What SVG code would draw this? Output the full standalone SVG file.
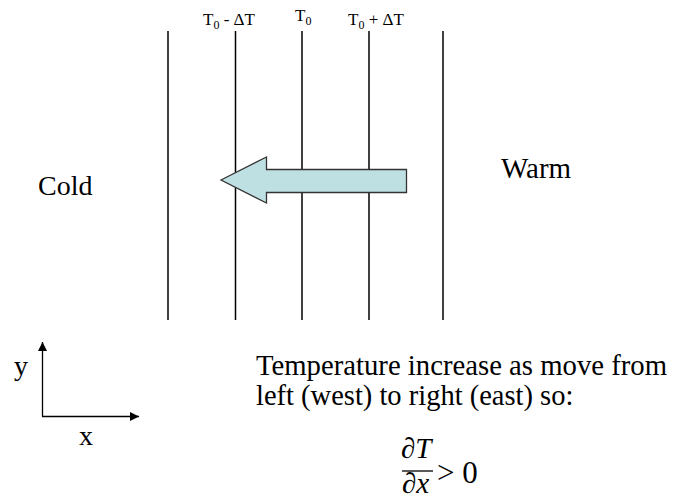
<svg xmlns="http://www.w3.org/2000/svg" width="673" height="501" viewBox="0 0 673 501" font-family="Liberation Serif">
<style>
.iso{stroke:#000;stroke-width:1.5}
.ax{stroke:#000;stroke-width:1.3;fill:none}
</style>
<defs>
<marker id="ah" viewBox="0 0 10 10" refX="10" refY="5" markerWidth="11" markerHeight="9" markerUnits="userSpaceOnUse" orient="auto"><path d="M0,0 L10,5 L0,10 z" fill="#000"/></marker>
</defs>
<rect width="673" height="501" fill="#fff"/>
<g id="isotherms">
<line class="iso" x1="168" y1="31" x2="168" y2="320"/>
<line class="iso" x1="235.5" y1="31" x2="235.5" y2="320"/>
<line class="iso" x1="302" y1="31" x2="302" y2="320"/>
<line class="iso" x1="369" y1="31" x2="369" y2="320"/>
<line class="iso" x1="443" y1="31" x2="443" y2="320"/>
</g>
<g id="labels" font-size="17" font-family="Liberation Serif">
<text x="203" y="25">T<tspan font-size="12" dy="4">0</tspan><tspan dy="-4"> - ΔT</tspan></text>
<text x="295" y="21">T<tspan font-size="12" dy="4">0</tspan></text>
<text x="348" y="25">T<tspan font-size="12" dy="4">0</tspan><tspan dy="-4"> + ΔT</tspan></text>
</g>
<g id="arrow">
<path d="M221,180 L266.5,157 L266.5,169.5 L406.5,169.5 L406.5,192.5 L266.5,192.5 L266.5,203 Z" fill="#bfe0e2" stroke="#333" stroke-width="1.3"/>
</g>
<g id="cold"><text x="38" y="195" font-size="28" font-family="Liberation Serif">Cold</text></g>
<g id="warm"><text x="501" y="178" font-size="29" font-family="Liberation Serif">Warm</text></g>
<g id="axes" font-family="Liberation Serif">
<line class="ax" x1="42.5" y1="416.5" x2="42.5" y2="342" marker-end="url(#ah)"/>
<line class="ax" x1="42" y1="416.5" x2="139" y2="416.5" marker-end="url(#ah)"/>
<text x="14" y="375" font-size="28">y</text>
<text x="79" y="445" font-size="28">x</text>
</g>
<g id="description" font-size="28.5" font-family="Liberation Serif">
<text x="256" y="375" textLength="411" lengthAdjust="spacingAndGlyphs">Temperature increase as move from</text>
<text x="256" y="405">left (west) to right (east) so:</text>
</g>
<g id="formula" font-family="Liberation Serif">
<text x="401" y="458" font-size="29" font-style="italic">∂T</text>
<line x1="402" y1="471" x2="433" y2="471" stroke="#000" stroke-width="1.3"/>
<text x="402" y="493" font-size="29" font-style="italic">∂x</text>
<text x="437" y="483" font-size="31">&gt; 0</text>
</g>
</svg>
